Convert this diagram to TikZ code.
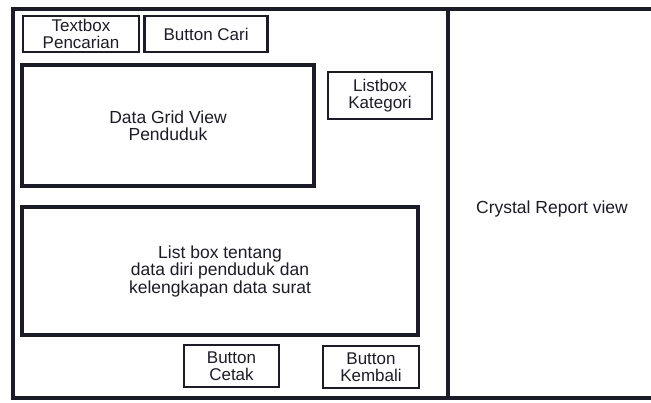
\documentclass[tikz,border=0pt]{standalone}
\usepackage{fontspec}
\setmainfont{Liberation Sans}
\usepackage{tikz}
\usetikzlibrary{positioning}
\definecolor{ink}{RGB}{28,28,40}
\tikzstyle{control} = [
    rectangle,
    draw=ink,
    line width=2.6pt,
    align=center,
    inner sep=0pt,
    text=ink,
    font=\fontsize{17}{16.5}\selectfont
]
\tikzstyle{panel} = [
    rectangle,
    draw=ink,
    line width=4.5pt,
    align=center,
    inner sep=0pt,
    text=ink,
    font=\fontsize{17.5}{17.5}\selectfont
]
\tikzstyle{frame} = [draw=ink, line width=4.5pt]

\begin{document}
\begin{tikzpicture}[x=1pt, y=-1pt]
\useasboundingbox (0,0) rectangle (651,402);

% form outline
\draw [frame] (651,9) -- (13,9) -- (13,398) -- (651,398);
\draw [frame] (448,9) -- (448,398);

\node (search) [control, minimum width=116pt, minimum height=36pt] at (81,34)
{Textbox\\Pencarian};

\node (find) [control, minimum width=123pt, minimum height=36pt, right=3pt of search]
{Button Cari};

\node (grid) [panel, minimum width=292pt, minimum height=121pt] at (168,125.5)
{Data Grid View\\Penduduk};

\node (category) [control, minimum width=104pt, minimum height=47pt] at (380,95.5)
{Listbox\\Kategori};

\node (detail) [panel, minimum width=396pt, minimum height=128pt] at (220,271)
{List box tentang\\data diri penduduk dan\\kelengkapan data surat};

\node (print) [control, minimum width=95pt, minimum height=42pt] at (231.5,366)
{Button\\Cetak};

\node (back) [control, minimum width=96pt, minimum height=42pt] at (371,367)
{Button\\Kembali};

\node (report) [text=ink, font=\fontsize{17.5}{17.5}\selectfont] at (552,209)
{Crystal Report view};

\end{tikzpicture}
\end{document}
